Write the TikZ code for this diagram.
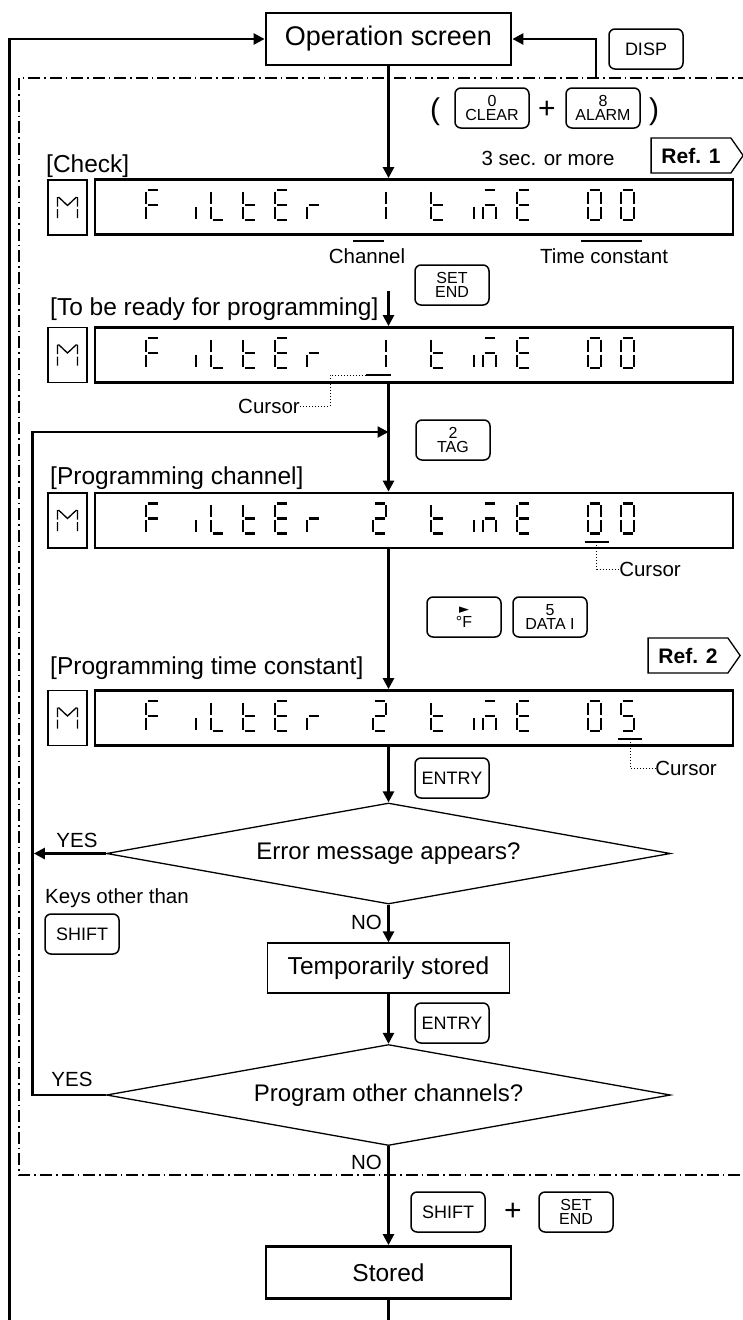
\documentclass[tikz,border=0pt]{standalone}
\usepackage{fontspec}
\setmainfont{Liberation Sans}
\newfontfamily\symfont{DejaVu Sans}
\usetikzlibrary{shapes.geometric, shapes.symbols, arrows.meta}

% display segments, one cell is 13 wide and 30 high
\newcommand\lcdsa{\draw[lcd] (1.5,-15) -- (11.5,-15);}
\newcommand\lcdsb{\draw[lcd] (13,-13.5) -- (13,-1.5);}
\newcommand\lcdsc{\draw[lcd] (13,1.5) -- (13,13.5);}
\newcommand\lcdsd{\draw[lcd] (1.5,15) -- (11.5,15);}
\newcommand\lcdse{\draw[lcd] (0,1.5) -- (0,13.5);}
\newcommand\lcdsf{\draw[lcd] (0,-13.5) -- (0,-1.5);}
\newcommand\lcdsg{\draw[lcd] (1.5,0) -- (11.5,0);}
\newcommand\lcdF{\lcdsa\lcdsf\lcdsg\lcdse}
\newcommand\lcdi{\lcdsc}
\newcommand\lcdL{\lcdsf\lcdse\lcdsd}
\newcommand\lcdt{\lcdsf\lcdse\lcdsg\lcdsd}
\newcommand\lcdE{\lcdsa\lcdsf\lcdsg\lcdse\lcdsd}
\newcommand\lcdr{\lcdse\lcdsg}
\newcommand\lcdm{\lcdsa\lcdsg\lcdse\lcdsc}
\expandafter\newcommand\csname lcd0\endcsname{\lcdsa\lcdsb\lcdsc\lcdsd\lcdse\lcdsf}
\expandafter\newcommand\csname lcd1\endcsname{\lcdsb\lcdsc}
\expandafter\newcommand\csname lcd2\endcsname{\lcdsa\lcdsb\lcdsg\lcdse\lcdsd}
\expandafter\newcommand\csname lcd5\endcsname{\lcdsa\lcdsf\lcdsg\lcdsc\lcdsd}
\newcommand\lcdchar[3]{\begin{scope}[shift={(#1,#2)}]\csname lcd#3\endcsname\end{scope}}
% one display line: y, channel digit, last digit
\newcommand\filterrow[3]{%
  \foreach \cx/\cc in {146/F,183/i,211/L,243/t,275/E,307/r,373/#2,431/t,461/i,483/m,517/E,588/0,621/#3}
    {\lcdchar{\cx}{#1}{\cc}}}
\newcommand\mglyph[1]{%
  \begin{scope}[shift={(#1.center)}]
    \draw[mseg] (-10,-10.5) -- (-10,-1) (-10,1.5) -- (-10,10.5)
                (10,-10.5) -- (10,-1) (10,1.5) -- (10,10.5)
                (-9,-10.5) -- (0,-2) -- (9,-10.5);
  \end{scope}}

\begin{document}
\begin{tikzpicture}[
    x=1pt, y=-1pt,
    every node/.style={inner sep=0pt},
    flow/.style={line width=2.5, -{Triangle[length=11pt, width=11pt]}},
    opbox/.style={draw, line width=2.8, minimum width=245, minimum height=52},
    tmpbox/.style={draw, line width=1.3, minimum width=242, minimum height=50},
    lcdbox/.style={draw, line width=2.8, minimum width=638, minimum height=55},
    mbox/.style={draw, line width=1.2, minimum width=39, minimum height=55},
    key/.style={draw, line width=1.5, rounded corners=6, minimum width=74, minimum height=40,
      font=\fontsize{18}{18}\selectfont},
    keytwo/.style={key, align=center, font=\fontsize{16}{14.5}\selectfont},
    reftag/.style={signal, signal to=east, signal pointer angle=110, draw, line width=1.3,
      minimum width=92, minimum height=35, font=\bfseries\fontsize{21}{21}\selectfont},
    decision/.style={diamond, draw, line width=1.3, aspect=5.6, minimum width=564,
      minimum height=101, font=\fontsize{24}{24}\selectfont},
    lbl/.style={font=\fontsize{24.5}{24.5}\selectfont},
    note/.style={font=\fontsize{20.5}{20.5}\selectfont},
    big/.style={font=\fontsize{30}{30}\selectfont},
    lcd/.style={line width=2.6},
    under/.style={line width=2.8},
    mseg/.style={line width=1.3},
    cursor/.style={line width=1, dotted},
    dashframe/.style={line width=1.4, dash pattern=on 12pt off 4pt on 1.5pt off 4pt},
]
  \useasboundingbox (0,0) rectangle (743,1320);
  \draw[dashframe] (19,78) rectangle (760,1175);

  \node[opbox, font=\fontsize{27}{27}\selectfont] (op) at (388.5,39) {Operation screen};
  \node[key] (disp) at (646,49) {DISP};
  \node[big] (lpar) at (435,112) {(};
  \node[keytwo] (clear) at (492,108) {0\\CLEAR};
  \node[big] (plus1) at (547,110) {+};
  \node[keytwo] (alarm) at (603,108) {8\\ALARM};
  \node[big] (rpar) at (654,112) {)};
  \node[note] (sec) at (548,158) {3 sec. or more};
  \node[reftag] (ref1) at (691,155.5) {Ref. 1};

  % [Check]
  \node[lbl, anchor=west] (chk) at (46,166) {[Check]};
  \node[mbox] (m1) at (67.5,207.5) {};
  \node[lcdbox] (d1) at (414,207) {};
  \mglyph{m1}
  \filterrow{205}{1}{0}
  \draw[under] (353,241) -- (384,241);
  \draw[under] (581,241) -- (642,241);
  \node[note] (chan) at (367,256) {Channel};
  \node[note] (tc) at (604,256) {Time constant};
  \node[keytwo] (set1) at (452,285) {SET\\END};

  % ready
  \node[lbl, anchor=west] (ready) at (50,309) {[To be ready for programming]};
  \node[mbox] (m2) at (67.5,355) {};
  \node[lcdbox] (d2) at (414,355) {};
  \mglyph{m2}
  \filterrow{353}{1}{0}
  \coordinate (u2) at (366,375);
  \draw[under] (u2) -- ++(25,0);
  \node[note] (c2) at (269,406) {Cursor};
  \draw[cursor] (u2) -- ++(-36,0) |- (c2);
  \node[keytwo] (tag) at (453,440) {2\\TAG};

  % channel
  \node[lbl, anchor=west] (pch) at (50,478) {[Programming channel]};
  \node[mbox] (m3) at (67.5,520.5) {};
  \node[lcdbox] (d3) at (414,520.5) {};
  \mglyph{m3}
  \filterrow{518.5}{2}{0}
  \coordinate (u3) at (596.5,542);
  \draw[under] (u3) ++(-12,0) -- ++(24,0);
  \node[note] (c3) at (650,569) {Cursor};
  \draw[cursor] (u3) |- (c3);
  \node[keytwo] (rt) at (464,617) {{\symfont\fontsize{13}{13}\selectfont ►}\\°F};
  \node[keytwo] (data) at (550,617) {5\\DATA I};

  % time constant
  \node[reftag] (ref2) at (688,655.5) {Ref. 2};
  \node[lbl, anchor=west] (ptc) at (50,668) {[Programming time constant]};
  \node[mbox] (m4) at (67.5,718) {};
  \node[lcdbox] (d4) at (414,718) {};
  \mglyph{m4}
  \filterrow{716}{2}{5}
  \coordinate (u4) at (630,739);
  \draw[under] (u4) ++(-12,0) -- ++(24,0);
  \node[note] (c4) at (686,768) {Cursor};
  \draw[cursor] (u4) |- (c4);
  \node[key] (ent1) at (452,778) {ENTRY};

  % checks
  \node[decision] (err) at (388.5,853.5) {Error message appears?};
  \node[note] (yes1) at (77,840) {YES};
  \node[note, anchor=west] (keys) at (45,898) {Keys other than};
  \node[key] (shift1) at (82,934) {SHIFT};
  \node[note, anchor=east] (no1) at (382,922) {NO};
  \node[tmpbox, lbl] (tmp) at (388.5,968) {Temporarily stored};
  \node[key] (ent2) at (452,1023) {ENTRY};
  \node[decision] (more) at (388.5,1095) {Program other channels?};
  \node[note] (yes2) at (72,1079) {YES};
  \node[note, anchor=east] (no2) at (382,1162) {NO};
  \node[key] (shift2) at (448,1212) {SHIFT};
  \node[big] (plus2) at (513,1212) {+};
  \node[keytwo] (set2) at (576,1212) {SET\\END};
  \node[opbox, lbl] (st) at (388.5,1272.5) {Stored};

  % connectors
  \coordinate (g1) at (388.5,291);
  \coordinate (loop) at (388.5,432);
  \coordinate (dsp) at (596,78);
  \coordinate (ret) at (9.5,1330);
  \draw[flow] (op) -- (op |- d1.north);
  \draw[flow] (g1) -- (g1 |- d2.north);
  \draw[flow] (op |- d2.south) -- (op |- d3.north);
  \draw[flow] (op |- d3.south) -- (op |- d4.north);
  \draw[flow] (op |- d4.south) -- (err);
  \draw[flow] (err) -- (tmp);
  \draw[flow] (tmp) -- (more);
  \draw[flow] (more) -- (st);
  \draw[flow] (err.west) -- ++(-72,0);
  \draw[flow] (more.west) -- ++(-73.5,0) |- (loop);
  \draw[flow] (st) |- (ret) |- (op);
  \draw[flow] (dsp) |- (op);
\end{tikzpicture}
\end{document}
